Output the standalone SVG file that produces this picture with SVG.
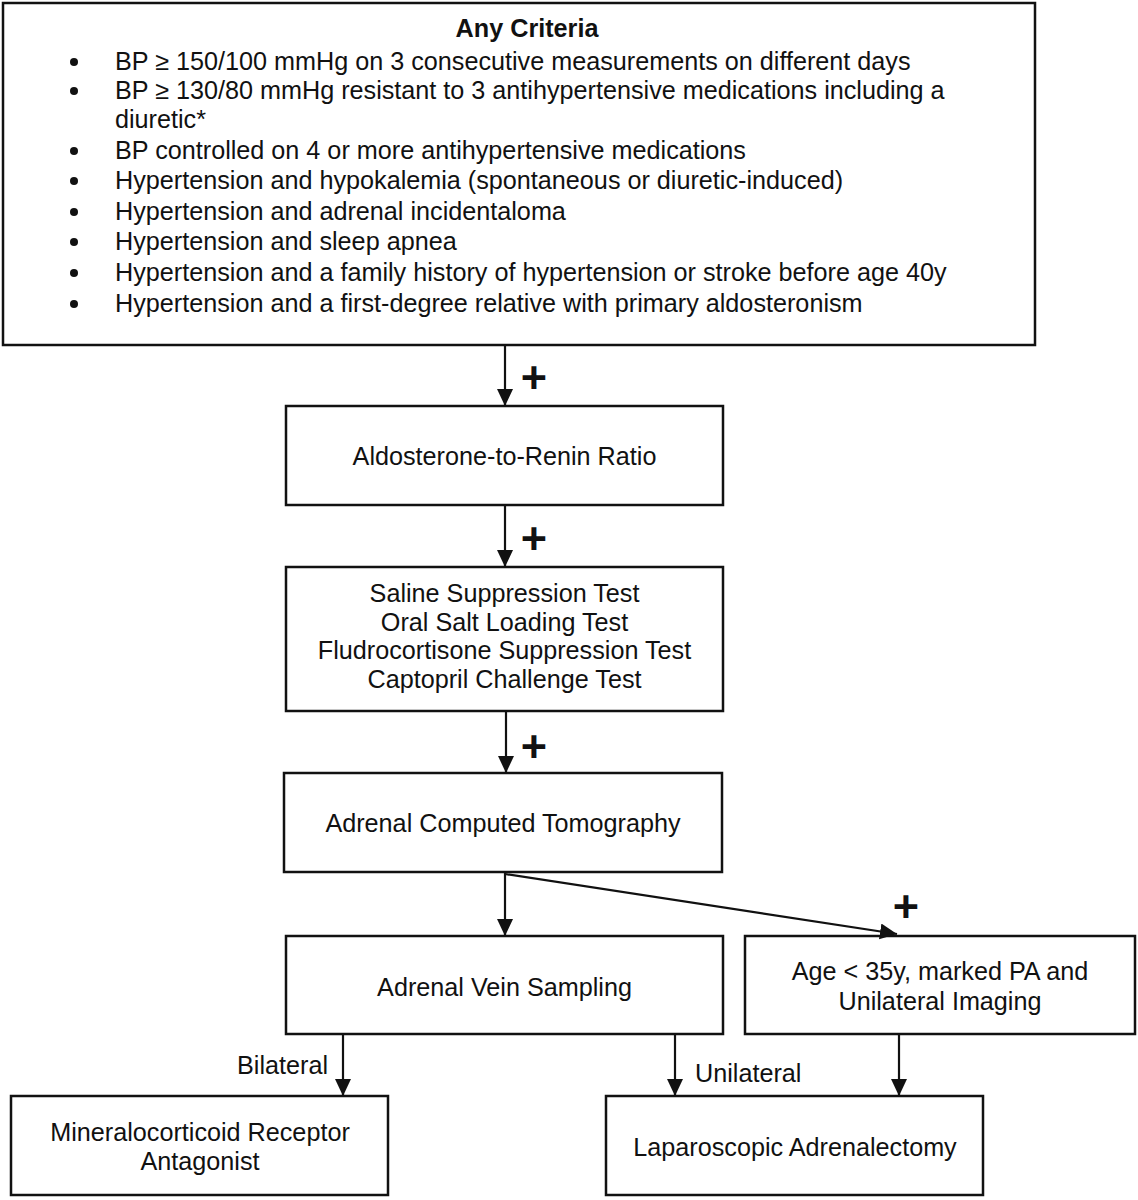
<svg xmlns="http://www.w3.org/2000/svg" width="1138" height="1200" viewBox="0 0 1138 1200">
<style>
.box{fill:#fff;stroke:#111;stroke-width:2.5}
.t{font-family:"Liberation Sans",Arial,sans-serif;font-size:25.2px;fill:#111}
.c{text-anchor:middle}
.b{font-weight:bold}
.plus{font-family:"Liberation Sans",Arial,sans-serif;font-size:45px;font-weight:bold;fill:#111;text-anchor:middle}
.ln{fill:none;stroke:#111;stroke-width:2.2}
</style>
<defs>
<marker id="ah" markerUnits="userSpaceOnUse" markerWidth="17" markerHeight="18" refX="17" refY="8" orient="auto">
<path d="M0,0 L17,8 L0,16 Z" fill="#111"/>
</marker>
</defs>
<rect width="1138" height="1200" fill="#fff"/>
<g id="criteria">
<rect class="box" x="3" y="3" width="1032" height="342"/>
<text class="t c b" x="527" y="37">Any Criteria</text>
<g fill="#111">
<circle cx="74" cy="62" r="4"/><circle cx="74" cy="91" r="4"/><circle cx="74" cy="151" r="4"/><circle cx="74" cy="181" r="4"/><circle cx="74" cy="212" r="4"/><circle cx="74" cy="242" r="4"/><circle cx="74" cy="273" r="4"/><circle cx="74" cy="304" r="4"/>
</g>
<text class="t" x="115" y="70">BP ≥ 150/100 mmHg on 3 consecutive measurements on different days</text>
<text class="t" x="115" y="99">BP ≥ 130/80 mmHg resistant to 3 antihypertensive medications including a</text>
<text class="t" x="115" y="128">diuretic*</text>
<text class="t" x="115" y="159">BP controlled on 4 or more antihypertensive medications</text>
<text class="t" x="115" y="189">Hypertension and hypokalemia (spontaneous or diuretic-induced)</text>
<text class="t" x="115" y="220">Hypertension and adrenal incidentaloma</text>
<text class="t" x="115" y="250">Hypertension and sleep apnea</text>
<text class="t" x="115" y="281">Hypertension and a family history of hypertension or stroke before age 40y</text>
<text class="t" x="115" y="312">Hypertension and a first-degree relative with primary aldosteronism</text>
</g>
<g id="arr">
<rect class="box" x="286" y="406" width="437" height="99"/>
<text class="t c" x="504.5" y="465">Aldosterone-to-Renin Ratio</text>
</g>
<g id="tests">
<rect class="box" x="286" y="567" width="437" height="144"/>
<text class="t c" x="504.5" y="602">Saline Suppression Test</text>
<text class="t c" x="504.5" y="631">Oral Salt Loading Test</text>
<text class="t c" x="504.5" y="659">Fludrocortisone Suppression Test</text>
<text class="t c" x="504.5" y="688">Captopril Challenge Test</text>
</g>
<g id="ct">
<rect class="box" x="284" y="773" width="438" height="99"/>
<text class="t c" x="503" y="832">Adrenal Computed Tomography</text>
</g>
<g id="avs">
<rect class="box" x="286" y="936" width="437" height="98"/>
<text class="t c" x="504.5" y="996">Adrenal Vein Sampling</text>
</g>
<g id="age">
<rect class="box" x="745" y="936" width="390" height="98"/>
<text class="t c" x="940" y="980">Age &lt; 35y, marked PA and</text>
<text class="t c" x="940" y="1010">Unilateral Imaging</text>
</g>
<g id="mra">
<rect class="box" x="11" y="1096" width="377" height="99"/>
<text class="t c" x="200" y="1141">Mineralocorticoid Receptor</text>
<text class="t c" x="200" y="1170">Antagonist</text>
</g>
<g id="lap">
<rect class="box" x="606" y="1096" width="377" height="99"/>
<text class="t c" x="795" y="1156">Laparoscopic Adrenalectomy</text>
</g>
<g id="connectors">
<line class="ln" x1="505" y1="345" x2="505" y2="406" marker-end="url(#ah)"/>
<line class="ln" x1="505" y1="505" x2="505" y2="567" marker-end="url(#ah)"/>
<line class="ln" x1="506" y1="711" x2="506" y2="773" marker-end="url(#ah)"/>
<line class="ln" x1="505" y1="872" x2="505" y2="936" marker-end="url(#ah)"/>
<line class="ln" x1="505" y1="874" x2="897" y2="934" marker-end="url(#ah)"/>
<line class="ln" x1="343" y1="1034" x2="343" y2="1096" marker-end="url(#ah)"/>
<line class="ln" x1="675" y1="1034" x2="675" y2="1096" marker-end="url(#ah)"/>
<line class="ln" x1="899" y1="1034" x2="899" y2="1096" marker-end="url(#ah)"/>
<text class="plus" x="534" y="393">+</text>
<text class="plus" x="534" y="554">+</text>
<text class="plus" x="534" y="762">+</text>
<text class="plus" x="906" y="922">+</text>
<text class="t" x="328" y="1074" text-anchor="end">Bilateral</text>
<text class="t" x="695" y="1082">Unilateral</text>
</g>
</svg>
